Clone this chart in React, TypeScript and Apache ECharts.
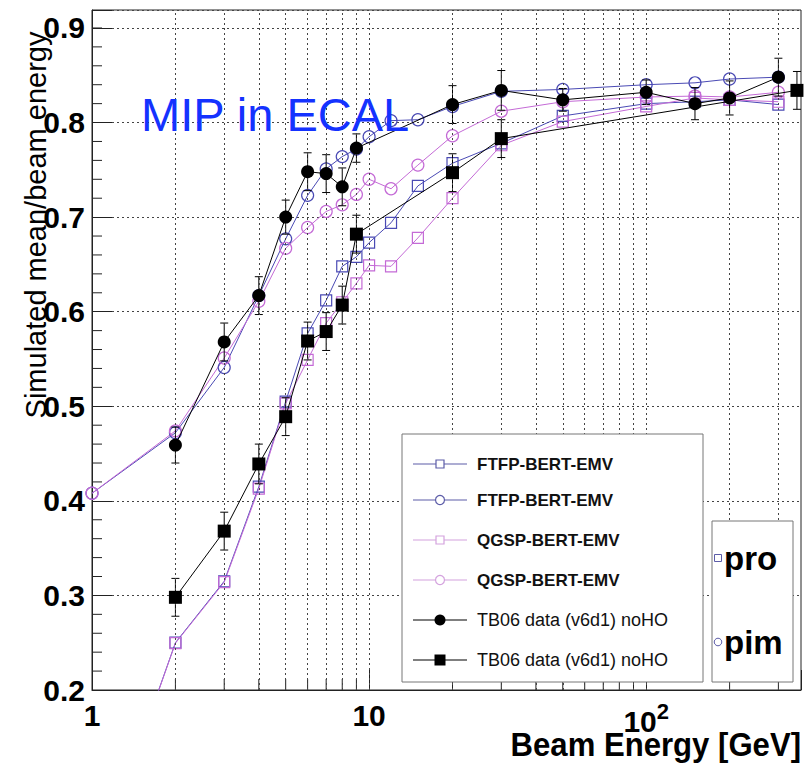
import React, { useEffect, useRef } from 'react';
import * as echarts from 'echarts';

// ---------- data ----------
const simEnergies = [1, 2, 3, 4, 5, 6, 7, 8, 9, 10, 12, 15, 20, 30, 50, 100, 150, 200, 300];
const ftfpProValues = [0.0, 0.25, 0.315, 0.415, 0.505, 0.577, 0.612, 0.648, 0.658, 0.673, 0.694, 0.733, 0.757, 0.778, 0.807, 0.82, 0.822, 0.824, 0.819];
const ftfpPimValues = [0.408, 0.472, 0.541, 0.617, 0.677, 0.723, 0.751, 0.764, 0.772, 0.785, 0.802, 0.803, 0.817, 0.833, 0.835, 0.84, 0.842, 0.846, 0.848];
const qgspProValues = [0.0, 0.2495, 0.314, 0.413, 0.503, 0.549, 0.588, 0.61, 0.63, 0.649, 0.648, 0.678, 0.72, 0.776, 0.801, 0.817, 0.826, 0.824, 0.822];
const qgspPimValues = [0.408, 0.474, 0.551, 0.611, 0.667, 0.689, 0.706, 0.713, 0.724, 0.74, 0.73, 0.755, 0.786, 0.812, 0.822, 0.827, 0.828, 0.827, 0.832];

const tbPimEnergies = [2, 3, 4, 5, 6, 7, 8, 9, 20, 30, 50, 100, 150, 200, 300];
const tbPimValues = [0.459, 0.568, 0.617, 0.7, 0.748, 0.746, 0.732, 0.773, 0.819, 0.834, 0.824, 0.832, 0.82, 0.826, 0.848];
const tbPimErrors = [0.019, 0.02, 0.02, 0.018, 0.02, 0.02, 0.02, 0.015, 0.02, 0.021, 0.012, 0.013, 0.017, 0.018, 0.02];

const tbProEnergies = [2, 3, 4, 5, 6, 7, 8, 9, 20, 30, 350];
const tbProValues = [0.298, 0.368, 0.439, 0.489, 0.569, 0.579, 0.607, 0.682, 0.747, 0.783, 0.834];
const tbProErrors = [0.02, 0.02, 0.021, 0.02, 0.02, 0.02, 0.02, 0.02, 0.02, 0.02, 0.02];

const xGridValues = [2, 3, 4, 5, 6, 7, 8, 9, 10, 20, 30, 40, 50, 60, 70, 80, 90, 100, 200, 300];
const xMinorTicks = [2, 3, 4, 5, 6, 7, 8, 9, 20, 30, 40, 50, 60, 70, 80, 90, 200, 300];
const yMinorTicks = [0.22, 0.24, 0.26, 0.28, 0.32, 0.34, 0.36, 0.38, 0.42, 0.44, 0.46, 0.48, 0.52, 0.54, 0.56, 0.58, 0.62, 0.64, 0.66, 0.68, 0.72, 0.74, 0.76, 0.78, 0.82, 0.84, 0.86, 0.88, 0.9, 0.92].filter(v => v < 0.919);

const legendLabels = ['FTFP-BERT-EMV', 'FTFP-BERT-EMV', 'QGSP-BERT-EMV', 'QGSP-BERT-EMV', 'TB06 data (v6d1) noHO', 'TB06 data (v6d1) noHO'];
const boxLabels = ['pro', 'pim'];
const titleText = 'MIP in ECAL';
const xTitle = 'Beam Energy [GeV]';
const yTitle = 'Simulated mean/beam energy';

// ---------- style ----------
const FTFP = '#4a4ab4';
const QGSP = '#c46ad6';
const FTFP_LEG = '#5c5ca8';
const QGSP_LEG = '#d4a2de';
const FONT = 'Liberation Sans, Arial, Helvetica, sans-serif';

const zip = (xs: number[], ys: number[]) => xs.map((x, i) => [x, ys[i]]);
const zip3 = (xs: number[], ys: number[], es: number[]) => xs.map((x, i) => [x, ys[i], es[i]]);

function simSeries(name: string, values: number[], color: string, symbol: string) {
  return {
    name,
    type: 'line',
    z: 3,
    data: zip(simEnergies, values),
    symbol,
    symbolSize: symbol === 'rect' ? 11 : 12,
    lineStyle: { color, width: 1 },
    itemStyle: { color: 'rgba(255,255,255,0)', borderColor: color, borderWidth: 1.2 },
    clip: true,
  };
}

function errorBars(name: string, data: number[][]) {
  return {
    name,
    type: 'custom',
    z: 4,
    data,
    encode: { x: 0, y: 1 },
    renderItem: (_p: any, api: any) => {
      const x = api.value(0), y = api.value(1), e = api.value(2);
      const t = api.coord([x, y + e]);
      const b = api.coord([x, y - e]);
      const st = { stroke: '#000', lineWidth: 1 };
      return {
        type: 'group',
        children: [
          { type: 'line', shape: { x1: t[0], y1: t[1], x2: b[0], y2: b[1] }, style: st },
          { type: 'line', shape: { x1: t[0] - 4, y1: t[1], x2: t[0] + 4, y2: t[1] }, style: st },
          { type: 'line', shape: { x1: b[0] - 4, y1: b[1], x2: b[0] + 4, y2: b[1] }, style: st },
        ],
      };
    },
  };
}

function legendGraphics() {
  const rows = [464, 500, 540, 580, 620, 660];
  const colors = [FTFP_LEG, FTFP_LEG, QGSP_LEG, QGSP_LEG, '#000', '#000'];
  const kinds = ['sq', 'ci', 'sq', 'ci', 'fci', 'fsq'];
  const els: any[] = [
    { type: 'rect', shape: { x: 402, y: 434, width: 301, height: 248 }, style: { fill: '#fff', stroke: '#777', lineWidth: 1 }, z: 10 },
    { type: 'rect', shape: { x: 712, y: 521, width: 81, height: 161 }, style: { fill: '#fff', stroke: '#777', lineWidth: 1 }, z: 10 },
  ];
  rows.forEach((y, i) => {
    const c = colors[i];
    els.push({ type: 'line', shape: { x1: 413, y1: y, x2: 467, y2: y }, style: { stroke: c, lineWidth: 1.2 }, z: 11 });
    const k = kinds[i];
    if (k === 'sq') els.push({ type: 'rect', shape: { x: 436, y: y - 4, width: 8, height: 8 }, style: { fill: '#fff', stroke: c, lineWidth: 1.2 }, z: 12 });
    if (k === 'ci') els.push({ type: 'circle', shape: { cx: 440, cy: y, r: 4.5 }, style: { fill: '#fff', stroke: c, lineWidth: 1.2 }, z: 12 });
    if (k === 'fci') els.push({ type: 'circle', shape: { cx: 440, cy: y, r: 5.5 }, style: { fill: '#000' }, z: 12 });
    if (k === 'fsq') els.push({ type: 'rect', shape: { x: 434.5, y: y - 5.5, width: 11, height: 11 }, style: { fill: '#000' }, z: 12 });
    const isTB = i >= 4;
    els.push({
      type: 'text', x: 477, y, z: 12,
      style: {
        text: legendLabels[i], fill: '#111',
        font: `${isTB ? 'normal' : 'bold'} ${isTB ? 18 : 17}px ${FONT}`,
        align: 'left', verticalAlign: 'middle', textAlign: 'left', textVerticalAlign: 'middle',
      },
    });
  });
  // pro / pim box
  const boxRows = [558, 642];
  els.push({ type: 'rect', shape: { x: 714.5, y: boxRows[0] - 3.5, width: 7, height: 7 }, style: { fill: '#fff', stroke: FTFP_LEG, lineWidth: 1 }, z: 12 });
  els.push({ type: 'circle', shape: { cx: 718, cy: boxRows[1], r: 3.8 }, style: { fill: '#fff', stroke: FTFP_LEG, lineWidth: 1 }, z: 12 });
  boxRows.forEach((y, i) => {
    els.push({
      type: 'text', x: 724, y, z: 12,
      style: {
        text: boxLabels[i], fill: '#000', font: `bold 33px ${FONT}`,
        align: 'left', verticalAlign: 'middle', textAlign: 'left', textVerticalAlign: 'middle',
      },
    });
  });
  return els;
}

export default function App() {
  const ref = useRef<HTMLDivElement>(null);
  useEffect(() => {
    if (!ref.current) return;
    const chart = echarts.init(ref.current, undefined, { renderer: 'svg' });
    const option: any = {
      animation: false,
      backgroundColor: '#fff',
      grid: { left: 92, right: 8, top: 10, bottom: 73, show: true, borderColor: '#222', borderWidth: 1, backgroundColor: 'transparent' },
      xAxis: {
        type: 'log', logBase: 10, min: 1, max: 362,
        axisLine: { show: true, lineStyle: { color: '#222' } },
        axisTick: { show: true, inside: true, length: 20, lineStyle: { color: '#222' } },
        splitLine: { show: false },
        axisLabel: {
          margin: 10,
          formatter: (v: number) => {
            const p = Math.round(Math.log10(v));
            if (Math.abs(Math.log10(v) - p) > 1e-6) return '';
            if (p === 0) return '{a|1}';
            if (p === 1) return '{a|10}';
            if (p === 2) return '{a|10}{s|2}';
            return '';
          },
          rich: {
            a: { fontSize: 30, fontWeight: 'bold', fontFamily: FONT, color: '#000' },
            s: { fontSize: 22, fontWeight: 'bold', fontFamily: FONT, color: '#000', verticalAlign: 'top', padding: [0, 0, 20, 0] },
          },
        },
      },
      yAxis: {
        type: 'value', min: 0.2, max: 0.919, interval: 0.1,
        axisLine: { show: true, lineStyle: { color: '#222' } },
        axisTick: { show: true, inside: true, length: 20, lineStyle: { color: '#222' } },
        splitLine: { show: true, lineStyle: { color: '#444', type: [2, 3], width: 1 } },
        axisLabel: {
          margin: 7, fontSize: 30, fontWeight: 'bold', fontFamily: FONT, color: '#000',
          formatter: (v: number) => {
            const r = Math.round(v * 10);
            if (Math.abs(v * 10 - r) > 1e-6 || r > 9) return '';
            return (r / 10).toFixed(1);
          },
        },
      },
      series: [
        {
          name: 'grid', type: 'line', data: [], z: 1, silent: true,
          markLine: {
            silent: true, symbol: 'none', label: { show: false },
            lineStyle: { color: '#444', type: [2, 3], width: 1 },
            data: xGridValues.map(v => ({ xAxis: v })),
          },
        },
        {
          name: 'ticks', type: 'custom', z: 2, silent: true,
          data: [...xMinorTicks.map(v => [v, 0.2, 0]), ...yMinorTicks.map(v => [1, v, 1])],
          encode: { x: 0, y: 1 },
          renderItem: (_p: any, api: any) => {
            const c = api.coord([api.value(0), api.value(1)]);
            const isY = api.value(2) === 1;
            return {
              type: 'line',
              shape: isY ? { x1: c[0], y1: c[1], x2: c[0] + 10, y2: c[1] } : { x1: c[0], y1: c[1], x2: c[0], y2: c[1] - 11 },
              style: { stroke: '#222', lineWidth: 1 },
            };
          },
        },
        simSeries('FTFP-BERT-EMV pro', ftfpProValues, FTFP, 'rect'),
        simSeries('FTFP-BERT-EMV pim', ftfpPimValues, FTFP, 'circle'),
        simSeries('QGSP-BERT-EMV pro', qgspProValues, QGSP, 'rect'),
        simSeries('QGSP-BERT-EMV pim', qgspPimValues, QGSP, 'circle'),
        errorBars('TB06 pim err', zip3(tbPimEnergies, tbPimValues, tbPimErrors)),
        errorBars('TB06 pro err', zip3(tbProEnergies, tbProValues, tbProErrors)),
        {
          name: 'TB06 data (v6d1) noHO pim', type: 'line', z: 5,
          data: zip(tbPimEnergies, tbPimValues),
          symbol: 'circle', symbolSize: 13,
          lineStyle: { color: '#000', width: 1 }, itemStyle: { color: '#000' },
        },
        {
          name: 'TB06 data (v6d1) noHO pro', type: 'line', z: 5,
          data: zip(tbProEnergies, tbProValues),
          symbol: 'rect', symbolSize: 13,
          lineStyle: { color: '#000', width: 1 }, itemStyle: { color: '#000' },
        },
      ],
      graphic: [
        {
          type: 'text', x: 141, y: 138, z: 20,
          style: { text: titleText, fill: '#1432ff', font: `normal 47px ${FONT}`, align: 'left', verticalAlign: 'bottom', textAlign: 'left', textVerticalAlign: 'bottom' },
        },
        {
          type: 'text', x: 36, y: 225, rotation: Math.PI / 2, scaleX: 1, z: 20,
          style: { text: yTitle, fill: '#000', font: `normal 29px ${FONT}`, align: 'center', verticalAlign: 'middle', textAlign: 'center', textVerticalAlign: 'middle' },
        },
        {
          type: 'text', x: 801, y: 745, scaleX: 0.915, z: 20,
          style: { text: xTitle, fill: '#000', font: `bold 34px ${FONT}`, align: 'right', verticalAlign: 'middle', textAlign: 'right', textVerticalAlign: 'middle' },
        },
        ...legendGraphics(),
      ],
    };
    chart.setOption(option);
    return () => chart.dispose();
  }, []);
  return <div ref={ref} style={{ position: 'absolute', left: 0, top: 0, width: 809, height: 763, background: '#fff' }} />;
}
